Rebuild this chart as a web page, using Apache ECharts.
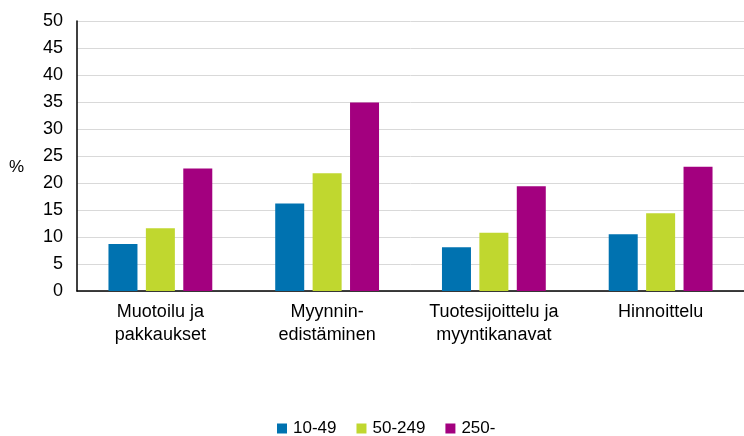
<!DOCTYPE html>
<html>
<head>
<meta charset="utf-8">
<script src="https://cdn.jsdelivr.net/npm/echarts@6/dist/echarts.min.js"></script>
<style>
html,body{margin:0;padding:0;background:#fff;}
#chart{width:744px;height:436px;}
</style>
</head>
<body>
<div id="chart"></div>
<script>
// kategoriat ja sarjat
var categories=['Muotoilu ja\npakkaukset','Myynnin-\nedistäminen','Tuotesijoittelu ja\nmyyntikanavat','Hinnoittelu'];
var seriesNames=['10-49','50-249','250-'];
var small=[8.7,16.2,8.1,10.5];
var medium=[11.6,21.8,10.8,14.4];
var large=[22.7,34.9,19.4,23.0];
var colors=['#0072b0','#c0d72f','#a3007f'];

var chart=echarts.init(document.getElementById('chart'));
var font='"Liberation Sans", Arial, sans-serif';

function bar(name,data,color){
	return {
		name:name,
		type:'bar',
		data:data,
		barWidth:29,
		barGap:'29%',
		itemStyle:{color:color},
		emphasis:{disabled:true}
	};
}

var option={
	animation:false,
	textStyle:{fontFamily:font},
	grid:{left:77,right:0,top:21,bottom:145},
	//y-akselin yksikkö
	graphic:[{
		type:'text',
		left:9,
		top:159,
		style:{text:'%',fontSize:17,fill:'#000',fontFamily:font}
	}],
	legend:{
		bottom:-1,
		left:277,
		padding:0,
		itemWidth:10,
		itemHeight:10,
		itemGap:20,
		icon:'rect',
		textStyle:{fontSize:17,color:'#000',fontFamily:font,padding:[0,0,0,1]},
		data:seriesNames
	},
	xAxis:{
		type:'category',
		data:categories,
		axisLine:{lineStyle:{color:'#000',width:1.5}},
		axisTick:{show:false},
		axisLabel:{fontSize:18,color:'#000',margin:10,lineHeight:23,interval:0}
	},
	yAxis:{
		type:'value',
		min:0,
		max:50,
		interval:5,
		axisLine:{show:true,lineStyle:{color:'#000',width:1.5}},
		axisTick:{show:false},
		axisLabel:{fontSize:18,color:'#000',margin:14},
		splitLine:{lineStyle:{color:'#d9d9d9',width:1}}
	},
	series:[
		bar(seriesNames[0],small,colors[0]),
		bar(seriesNames[1],medium,colors[1]),
		bar(seriesNames[2],large,colors[2])
	]
};
chart.setOption(option);
</script>
</body>
</html>
